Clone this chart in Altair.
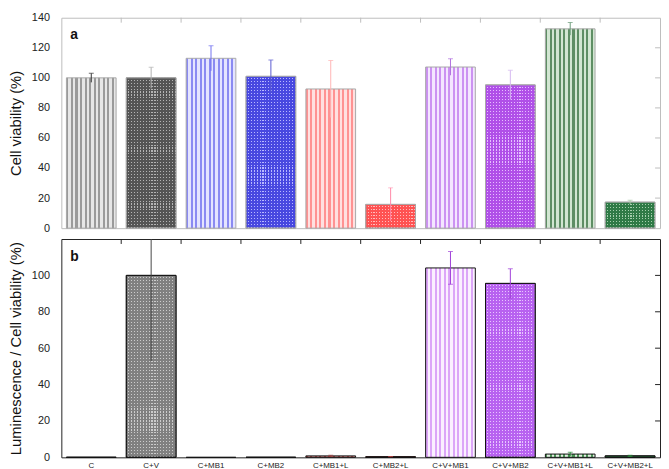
import altair as alt
import pandas as pd

# ---------------- data ----------------
categories = ["C", "C+V", "C+MB1", "C+MB2", "C+MB1+L", "C+MB2+L",
              "C+V+MB1", "C+V+MB2", "C+V+MB1+L", "C+V+MB2+L"]
viability = [100, 100, 113, 101, 92.6, 15.8, 107.2, 95.3, 132.6, 17.3]
viability_err = [3, 7, 8.3, 10.8, 19, 11, 5.5, 9.7, 4.2, 1.2]
lum_ratio = [0, 100, 0, 0, 0.8, 0.3, 104.1, 95.6, 1.8, 0.8]
lum_err = [0, 47, 0, 0, 0.3, 0.2, 9, 8, 1, 0.4]
y_ticks_a = [0, 20, 40, 60, 80, 100, 120, 140]
y_ticks_b = [0, 20, 40, 60, 80, 100]
inner_ticks_a = [20, 40, 60, 80, 100, 120]
inner_ticks_b = [20, 40, 60, 80, 100]
boundaries = [1, 2, 3, 4, 5, 6, 7, 8, 9]

# ---------------- styles ----------------
# (pattern, dark, light)
style_a = [
    ("stripe", "#9a9a9a", "#e6e6e6"),
    ("checker", "#555555", "#b4b4b4"),
    ("stripe", "#8a8af2", "#e4e4ff"),
    ("checker", "#4848e0", "#b8b8ff"),
    ("stripe", "#ff9292", "#ffe0e0"),
    ("checker", "#ff5252", "#ffbcbc"),
    ("stripe", "#cc92f2", "#f4e6ff"),
    ("checker", "#b050e8", "#e6beff"),
    ("stripe", "#5e8e64", "#d2e6d2"),
    ("checker", "#2f7a46", "#a4cfac"),
]
style_b = [
    ("checker", "#808080", "#cccccc"),
    ("checker", "#808080", "#cccccc"),
    ("stripe", "#8a8af2", "#e4e4ff"),
    ("checker", "#4848e0", "#b8b8ff"),
    ("stripe", "#c05050", "#e8a0a0"),
    ("checker", "#d04040", "#f0a0a0"),
    ("stripe", "#dca6f8", "#fbf0ff"),
    ("checker", "#b862f0", "#e8c6ff"),
    ("stripe", "#4f9a5a", "#e2f2e2"),
    ("checker", "#2a6a3a", "#80b090"),
]
err_colors_a = ["#333333", "#b0b0b0", "#7070f0", "#5a5ad0", "#ffb4b4",
                "#ff88a8", "#b070e0", "#d4b8f0", "#6a9a78", "#a8c8a8"]
err_colors_b = ["#444444", "#444444", "#7070f0", "#5a5ad0", "#a04040",
                "#c04040", "#a040d8", "#a040d8", "#2a8a3a", "#2a8a3a"]

FONT = "Liberation Sans"
W = 606
HA = 213
HB = 221
CLEAR = "rgba(255,255,255,0)"


def hard_stops(c1, c2, n, frac):
    stops = []
    for i in range(n):
        a = i / n
        b = (i + frac) / n
        c = min((i + 1) / n, 1.0)
        stops += [
            alt.GradientStop(offset=a, color=c1),
            alt.GradientStop(offset=b, color=c1),
            alt.GradientStop(offset=b, color=c2),
            alt.GradientStop(offset=c, color=c2),
        ]
    return stops


def vstripes(dark, light, n, frac):
    return alt.LinearGradient(gradient="linear", stops=hard_stops(dark, light, n, frac),
                              x1=0, x2=1, y1=0, y2=0)


def hstripes(dark, n, frac):
    return alt.LinearGradient(gradient="linear", stops=hard_stops(dark, CLEAR, n, frac),
                              x1=0, x2=0, y1=0, y2=1)


def panel(values, errs, styles, errcols, domain_max, yvals, inner_ticks,
          title, letter, frame_col, bar_stroke, show_xlabels, height, low_caps):
    df = pd.DataFrame({"cat": categories, "v": values, "e": errs})
    df["lo"] = df["v"] - df["e"]
    df["hi"] = df["v"] + df["e"]

    if show_xlabels:
        xaxis = alt.Axis(title=None, labelAngle=0, ticks=False, domain=False,
                         labelFontSize=8, labelFont=FONT, labelColor="#222222",
                         labelPadding=4)
    else:
        xaxis = None
    xscale = alt.Scale(paddingInner=0.17, paddingOuter=0.085)
    X = alt.X("cat:N", sort=categories, axis=xaxis, scale=xscale, title=None)
    yscale = alt.Scale(domain=[0, domain_max], nice=False)
    yaxis = alt.Axis(values=yvals, ticks=False, grid=False, domain=False,
                     labelOverlap=False, labelBound=False, labelFlush=False,
                     labelFontSize=11, labelFont=FONT, labelColor="#222222",
                     labelPadding=12, title=title, titleFontSize=15,
                     titleFont=FONT, titleFontWeight="normal",
                     titleColor="#111111", titlePadding=8)

    def Y(field):
        return alt.Y(field, type="quantitative", scale=yscale, axis=yaxis, title=title)

    layers = []
    for i, cat in enumerate(categories):
        kind, dark, light = styles[i]
        sel = alt.Chart(df).transform_filter(alt.datum.cat == cat)
        if kind == "stripe":
            layers.append(sel.mark_bar(fill=vstripes(dark, light, 11, 0.45),
                                       stroke=bar_stroke, strokeWidth=1).encode(x=X, y=Y("v")))
        else:
            # checker-like mesh: vertical stripes overlaid with horizontal stripes
            px = values[i] / domain_max * height
            rows = max(1, round(px / 3))
            layers.append(sel.mark_bar(fill=vstripes(dark, light, 17, 0.62),
                                       stroke=bar_stroke, strokeWidth=1).encode(x=X, y=Y("v")))
            layers.append(sel.mark_bar(fill=hstripes(dark, rows, 0.62),
                                       stroke=bar_stroke, strokeWidth=1).encode(x=X, y=Y("v")))
    color = alt.Color("cat:N", scale=alt.Scale(domain=categories, range=errcols),
                      legend=None)
    eb = alt.Chart(df).transform_filter(alt.datum.e > 0)
    layers.append(eb.mark_rule(strokeWidth=1, clip=True).encode(
        x=X, y=Y("lo"), y2="hi:Q", color=color))
    layers.append(eb.transform_filter(alt.datum.hi <= domain_max)
                  .mark_tick(size=5, thickness=1, clip=True)
                  .encode(x=X, y=Y("hi"), color=color))
    if low_caps:
        layers.append(eb.transform_filter(alt.datum.e < 20)
                      .mark_tick(size=5, thickness=1, clip=True)
                      .encode(x=X, y=Y("lo"), color=color))
    # inward tick marks: top (category boundaries) and right side
    tb = pd.DataFrame({"b": boundaries})
    top_ticks = alt.Chart(tb).mark_rule(color=frame_col, strokeWidth=1).encode(
        x=alt.X("b:Q", scale=alt.Scale(domain=[0, len(categories)]), axis=None),
        y=alt.value(0), y2=alt.value(5))
    ti = pd.DataFrame({"t": inner_ticks})
    right_ticks = alt.Chart(ti).mark_rule(color=frame_col, strokeWidth=1).encode(
        y=alt.Y("t:Q", scale=alt.Scale(domain=[0, domain_max], nice=False), axis=None),
        x=alt.value(W - 5), x2=alt.value(W))
    lab = alt.Chart(pd.DataFrame({"t": [letter]})).mark_text(
        fontWeight="bold", fontSize=14, font=FONT, align="left", baseline="top",
        color="#111111").encode(text="t:N", x=alt.value(9), y=alt.value(11))

    bars = alt.layer(*layers)
    deco = alt.layer(top_ticks, right_ticks, lab)
    return alt.layer(bars, deco).resolve_scale(x="independent", y="independent").properties(
        width=W, height=height,
        view=alt.ViewBackground(stroke=frame_col, strokeWidth=1))


pa = panel(viability, viability_err, style_a, err_colors_a, 140, y_ticks_a,
           inner_ticks_a, "Cell viability (%)", "a", "#bdbdbd", "#a8a8a8",
           False, HA, False)
pb = panel(lum_ratio, lum_err, style_b, err_colors_b, 120, y_ticks_b,
           inner_ticks_b, "Luminescence / Cell viability (%)", "b", "#222222",
           "#111111", True, HB, True)

chart = alt.vconcat(pa, pb, spacing=4).resolve_scale(color="independent").properties(
    padding={"left": 0, "top": 0, "right": 0, "bottom": 0},
    background="white")

chart.save("out.html", embed_options={"renderer": "svg", "actions": False})
